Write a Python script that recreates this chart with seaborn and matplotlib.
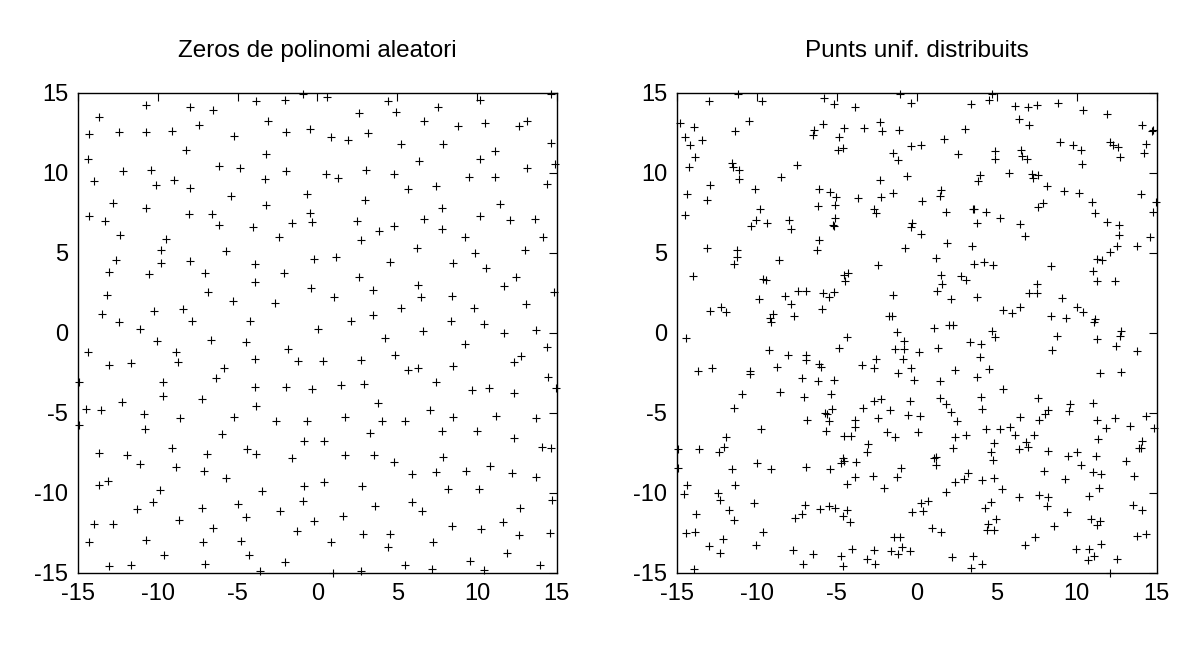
import pandas as pd
import seaborn as sns
import matplotlib.pyplot as plt

# Titles and axis ticks
titles = ["Zeros de polinomi aleatori", "Punts unif. distribuits"]
ticks = [-15, -10, -5, 0, 5, 10, 15]

# Left panel: zeros of a random polynomial (x, y)
zeros_xy = [
    (-10.75, 14.23), (-7.98, 14.13), (-6.56, 13.92), (-13.67, 13.5), (-7.42, 13.0), (-14.29, 12.42), (-12.42, 12.58), (-10.75, 12.54), (-9.10, 12.6), (-5.23, 12.31),
    (-8.23, 11.42), (-14.35, 10.85), (-6.17, 10.42), (-12.21, 10.10), (-10.42, 10.17), (-13.98, 9.46), (-10.13, 9.21), (-8.98, 9.54), (-7.98, 9.04), (-5.44, 8.54),
    (-12.79, 8.10), (-10.75, 7.79), (-14.29, 7.29), (-13.29, 7.0), (-8.04, 7.42), (-6.63, 7.42), (-6.17, 6.73), (-12.35, 6.13), (-9.48, 5.88), (-9.79, 5.17),
    (-5.73, 5.10), (-12.60, 4.54), (-9.79, 4.38), (-7.98, 4.48), (-13.04, 3.79), (-10.54, 3.69), (-7.04, 3.73), (-6.85, 2.56), (-13.17, 2.35), (-5.27, 2.0),
    (-13.52, 1.19), (-10.23, 1.38), (-8.42, 1.48), (-12.42, 0.65), (-7.85, 0.75), (-11.10, 0.23),
    (-3.83, 14.48), (-2.04, 14.54), (-0.90, 14.92), (0.58, 14.75), (4.40, 14.48), (4.92, 13.79), (2.58, 13.73), (-3.10, 13.23), (-1.98, 12.54), (-0.48, 12.73),
    (0.83, 12.23), (1.90, 12.04), (3.15, 12.48), (-3.23, 11.19), (-4.85, 10.29), (-1.98, 10.13), (-3.27, 9.63), (0.52, 9.94), (1.27, 9.67), (3.02, 10.17),
    (4.77, 9.94), (-0.67, 8.67), (2.96, 8.31), (-3.23, 7.98), (-0.44, 7.48), (-0.35, 6.90), (-1.60, 6.85), (-4.04, 6.60), (2.46, 7.0), (3.83, 6.38),
    (4.77, 6.67), (-2.42, 5.98), (2.71, 5.79), (-0.23, 4.60), (1.15, 4.75), (4.58, 4.42), (-3.90, 4.29), (-2.10, 3.73), (-3.92, 3.17), (2.58, 3.5),
    (-0.42, 2.79), (3.46, 2.67), (1.02, 2.23), (-2.67, 1.88), (-4.23, 0.75), (3.46, 1.13), (2.08, 0.71), (0.02, 0.23),
    (14.63, 14.92), (10.19, 14.54), (7.58, 14.13), (6.67, 13.21), (8.83, 12.94), (10.5, 13.10), (12.65, 12.94), (13.15, 13.21), (5.25, 11.83), (7.85, 11.79),
    (14.65, 11.85), (11.15, 11.35), (6.38, 10.73), (10.21, 10.85), (13.15, 10.33), (14.90, 10.54), (9.48, 9.71), (11.13, 9.71), (5.65, 8.98), (7.42, 9.15),
    (14.40, 9.29), (7.79, 7.79), (11.46, 8.04), (6.67, 7.13), (10.21, 7.31), (12.08, 7.06), (13.65, 7.13), (7.79, 6.5), (9.23, 5.96), (14.15, 6.0),
    (6.27, 5.33), (9.90, 4.98), (13.02, 5.17), (8.52, 4.38), (10.58, 4.06), (12.46, 3.5), (6.33, 3.0), (11.71, 2.94), (14.83, 2.56), (6.46, 2.21),
    (8.46, 2.31), (5.25, 1.54), (9.83, 1.58), (13.08, 1.83), (8.35, 0.75), (10.46, 0.54), (6.60, 0.13), (11.67, -0.02), (13.71, 0.17),
    (-10.06, -0.52), (-6.67, -0.46), (-14.35, -1.17), (-8.88, -1.17), (-13.06, -2.02), (-11.67, -1.90), (-8.73, -1.83), (-5.85, -2.21), (-14.96, -3.06), (-9.67, -3.08),
    (-6.35, -2.83), (-9.67, -3.94), (-12.27, -4.33), (-7.21, -4.15), (-14.48, -4.77), (-13.54, -4.83), (-10.85, -5.08), (-8.60, -5.33), (-5.23, -5.27), (-14.96, -5.77),
    (-10.79, -6.02), (-6.0, -6.33), (-13.67, -7.52), (-11.92, -7.65), (-9.10, -7.21), (-6.92, -7.58), (-11.10, -8.21), (-8.88, -8.38), (-7.10, -8.65), (-5.73, -9.06),
    (-13.67, -9.5), (-13.10, -9.27), (-9.85, -9.83), (-10.29, -10.58), (-11.29, -11.02), (-7.21, -10.96), (-5.0, -10.7), (-13.98, -11.94), (-12.79, -11.94), (-8.67, -11.69),
    (-6.56, -12.21), (-14.29, -13.06), (-10.73, -12.96), (-7.19, -13.06), (-9.60, -13.9), (-13.06, -14.58), (-11.67, -14.52), (-7.02, -14.44),
    (-4.48, -0.60), (-1.85, -1.0), (4.23, -0.31), (-3.90, -1.63), (-1.23, -1.73), (0.33, -1.77), (2.71, -1.71), (4.85, -1.38), (-3.90, -3.40), (-1.98, -3.40),
    (-0.35, -3.52), (1.46, -3.23), (2.90, -3.17), (-3.85, -4.58), (3.77, -4.38), (-2.60, -5.54), (-0.67, -5.54), (1.71, -5.27), (4.06, -5.5), (3.27, -6.27),
    (-0.85, -6.75), (0.44, -6.75), (-4.42, -7.27), (-3.85, -7.60), (-1.60, -7.83), (1.71, -7.65), (3.52, -7.65), (4.83, -8.08), (-0.85, -9.58), (0.40, -9.33),
    (2.77, -9.58), (-3.48, -9.90), (-0.92, -10.52), (-2.35, -11.15), (3.58, -10.85), (-4.48, -11.5), (-0.23, -11.77), (1.58, -11.44), (-1.29, -12.38), (-4.79, -13.0),
    (0.83, -13.06), (2.83, -12.56), (4.58, -12.6), (4.40, -13.4), (-4.29, -13.9), (-2.04, -14.35), (-3.60, -14.88), (2.71, -14.88), (0.96, -15.0),
    (9.23, -0.71), (14.40, -0.88), (12.33, -1.83), (12.77, -1.44), (5.65, -2.33), (6.31, -2.21), (8.52, -2.08), (7.40, -3.08), (9.71, -3.58), (10.77, -3.42),
    (12.33, -3.77), (14.46, -2.77), (14.96, -3.42), (7.08, -4.83), (5.46, -5.54), (8.52, -5.27), (11.21, -5.19), (13.71, -5.33), (7.79, -6.13), (10.02, -6.13),
    (12.33, -6.58), (14.08, -7.15), (14.65, -7.21), (7.85, -7.77), (5.90, -8.83), (7.46, -8.71), (9.33, -8.65), (10.83, -8.33), (12.21, -8.77), (13.71, -9.02),
    (8.21, -9.75), (10.15, -9.75), (5.90, -10.58), (6.58, -11.15), (12.71, -10.96), (14.71, -10.46), (8.46, -12.06), (10.27, -12.27), (11.65, -11.83), (12.65, -12.63),
    (14.58, -12.52), (7.27, -13.06), (11.90, -13.75), (5.52, -14.52), (7.15, -14.77), (9.58, -14.27), (10.46, -14.83), (13.96, -14.52),
]

# Right panel: uniformly distributed points (x, y)
uniform_xy = [
    (-13.0, 14.48), (-11.17, 14.94), (-9.67, 14.48), (-5.79, 14.69), (-5.17, 14.31), (-14.81, 13.10), (-13.92, 12.85), (-10.48, 13.23), (-11.35, 12.60), (-6.42, 12.69),
    (-6.48, 12.35), (-5.85, 13.08), (-14.48, 12.23), (-14.17, 11.77), (-13.42, 12.04), (-13.85, 10.98), (-14.23, 10.35), (-11.54, 10.63), (-11.48, 10.35), (-11.10, 10.19),
    (-11.10, 9.63), (-7.48, 10.48), (-8.48, 9.73), (-12.92, 9.23), (-14.35, 8.67), (-13.10, 8.29), (-10.10, 9.0), (-6.10, 9.0), (-5.42, 8.79), (-5.06, 8.48),
    (-5.10, 8.02), (-6.17, 7.90), (-9.79, 7.73), (-14.48, 7.35), (-10.04, 7.04), (-10.35, 6.67), (-9.35, 6.85), (-7.98, 7.04), (-7.85, 6.48), (-5.10, 7.17),
    (-5.25, 6.73), (-5.20, 6.70), (-6.10, 5.79), (-6.23, 5.15), (-13.10, 5.29), (-11.23, 5.17), (-11.23, 4.77), (-11.42, 4.29), (-8.60, 4.54), (-13.98, 3.54),
    (-9.60, 3.35), (-9.42, 3.29), (-7.42, 2.60), (-6.92, 2.60), (-5.85, 2.48), (-5.48, 2.23), (-5.17, 2.54), (-9.85, 2.13), (-8.23, 2.29), (-7.85, 1.79),
    (-12.92, 1.35), (-12.23, 1.60), (-11.92, 1.29), (-5.92, 1.5), (-8.98, 1.19), (-9.17, 0.94), (-9.10, 0.69), (-7.67, 1.04),
    (-1.04, 14.94), (-0.35, 14.35), (-3.85, 14.10), (3.40, 14.31), (4.52, 14.56), (4.71, 14.9), (-4.54, 12.79), (-3.29, 12.79), (-2.29, 13.15), (-2.17, 12.60),
    (-1.10, 12.67), (3.02, 12.73), (-4.85, 12.23), (1.71, 12.10), (-4.92, 11.42), (-4.60, 11.54), (-1.48, 11.23), (-1.17, 10.79), (-0.35, 11.67), (0.27, 11.73),
    (2.58, 11.17), (4.90, 11.35), (4.90, 10.85), (-2.29, 9.54), (-0.60, 9.79), (3.96, 9.85), (3.83, 9.48), (-3.67, 8.42), (-2.23, 8.48), (-1.48, 8.73),
    (0.33, 8.23), (1.52, 8.92), (1.46, 8.54), (-2.67, 7.73), (-2.54, 7.48), (1.83, 7.54), (3.58, 7.77), (3.52, 7.71), (4.33, 7.54), (3.77, 6.85),
    (-0.29, 6.85), (-0.35, 6.60), (0.27, 6.17), (-0.73, 5.33), (1.90, 5.60), (3.46, 5.42), (-2.42, 4.23), (1.21, 4.67), (3.58, 4.31), (4.21, 4.44),
    (4.77, 4.25), (-4.54, 3.60), (-4.29, 3.73), (-4.48, 3.23), (1.52, 3.60), (1.58, 3.04), (2.77, 3.54), (3.08, 3.29), (1.27, 2.60), (-1.48, 2.35),
    (2.15, 2.10), (3.77, 2.23), (-1.73, 1.08), (-1.54, 1.08), (1.08, 0.31), (2.02, 0.48), (2.27, 0.48), (-1.23, 0.04), (4.71, 0.1),
    (6.15, 14.17), (6.96, 14.10), (7.52, 14.23), (8.83, 14.38), (10.40, 13.92), (11.90, 13.69), (6.40, 13.35), (7.02, 13.0), (14.08, 12.98), (14.71, 12.60),
    (14.77, 12.65), (8.96, 11.94), (9.77, 11.73), (10.27, 11.42), (12.08, 11.94), (12.27, 11.73), (12.58, 11.60), (12.71, 10.98), (14.33, 11.81), (14.21, 11.23),
    (6.52, 11.42), (6.58, 11.04), (6.90, 10.85), (10.33, 10.54), (5.77, 9.98), (7.21, 9.92), (7.27, 9.67), (7.58, 9.85), (8.15, 9.17), (9.21, 8.85),
    (10.15, 8.73), (10.96, 8.17), (11.15, 7.48), (14.0, 8.67), (14.96, 8.17), (14.77, 7.54), (7.58, 7.85), (7.90, 8.10), (5.21, 7.17), (6.46, 6.79),
    (6.77, 6.06), (11.90, 6.92), (12.65, 6.75), (12.65, 6.13), (12.52, 5.42), (12.08, 5.06), (13.77, 5.42), (14.58, 6.0), (11.27, 4.60), (11.58, 4.54),
    (8.40, 4.17), (11.02, 3.85), (11.27, 3.23), (12.40, 3.23), (7.52, 3.04), (7.02, 2.48), (7.52, 2.48), (9.08, 2.17), (5.40, 1.42), (5.96, 1.23),
    (6.46, 1.60), (8.40, 1.04), (9.33, 0.92), (10.02, 1.60), (10.40, 1.29), (11.15, 0.85), (11.08, 0.67), (12.77, 0.1),
    (-14.42, -0.33), (-9.23, -1.08), (-8.04, -1.38), (-6.92, -1.40), (-6.92, -1.71), (-6.10, -1.94), (-5.98, -2.15), (-13.67, -2.40), (-12.79, -2.21), (-10.42, -2.40),
    (-10.42, -2.58), (-8.73, -2.15), (-7.17, -2.83), (-6.17, -3.02), (-5.17, -2.96), (-10.92, -3.83), (-8.54, -3.69), (-7.04, -4.02), (-5.35, -3.83), (-11.42, -4.71),
    (-5.29, -4.77), (-5.71, -5.0), (-5.60, -5.10), (-6.85, -5.46), (-5.48, -5.52), (-9.73, -6.02), (-5.67, -6.15), (-11.92, -6.52), (-12.04, -7.13), (-12.35, -7.46),
    (-13.60, -7.27), (-14.92, -7.25), (-14.92, -8.46), (-11.54, -8.52), (-9.98, -8.15), (-9.10, -8.52), (-6.92, -8.40), (-5.42, -8.52), (-14.35, -9.48), (-11.35, -9.48),
    (-14.54, -10.10), (-12.42, -10.0), (-12.29, -10.46), (-11.73, -11.08), (-10.17, -10.63), (-13.79, -11.31), (-11.42, -11.71), (-6.98, -10.77), (-7.17, -11.31), (-7.60, -11.58),
    (-6.04, -11.02), (-5.48, -10.83), (-5.10, -10.96), (-14.42, -12.52), (-13.85, -12.44), (-9.60, -12.46), (-12.10, -12.9), (-12.98, -13.35), (-12.29, -13.77), (-10.04, -13.27),
    (-7.73, -13.56), (-6.48, -13.83), (-7.10, -14.46), (-13.92, -14.73),
    (-4.35, -0.27), (4.90, -0.27), (-4.85, -0.96), (-0.79, -0.52), (-1.35, -1.02), (-0.83, -1.02), (0.15, -1.21), (1.33, -0.96), (3.33, -0.58), (4.02, -0.69),
    (-2.54, -1.65), (-0.85, -1.65), (3.96, -1.52), (-3.42, -2.02), (-2.67, -2.21), (-1.17, -2.5), (-0.35, -2.21), (2.40, -2.33), (4.52, -2.27), (-0.17, -2.96),
    (1.46, -3.02), (3.77, -2.77), (-2.67, -4.27), (-2.23, -4.13), (-0.42, -4.25), (1.46, -4.08), (1.83, -4.46), (2.15, -4.96), (2.52, -5.52), (4.02, -4.02),
    (4.08, -4.77), (-3.35, -4.71), (-1.67, -4.83), (-0.54, -5.15), (0.21, -5.21), (-2.42, -5.33), (-3.85, -5.46), (-3.85, -5.90), (-4.54, -6.46), (-4.10, -6.46),
    (-1.85, -6.21), (-1.35, -6.52), (0.08, -6.21), (2.40, -6.52), (3.08, -6.40), (4.33, -6.02), (-3.04, -6.96), (-3.10, -7.42), (2.27, -7.21), (4.83, -6.90),
    (4.65, -7.46), (4.77, -7.96), (-4.60, -7.85), (-4.73, -8.13), (-4.54, -8.0), (-3.79, -8.08), (-0.96, -8.46), (1.08, -7.85), (1.21, -7.79), (1.21, -8.27),
    (-3.85, -9.02), (-2.73, -8.94), (-1.23, -9.0), (-4.35, -9.44), (-2.04, -9.71), (1.83, -9.94), (2.40, -9.31), (2.96, -9.13), (3.21, -8.77), (4.08, -9.21),
    (4.83, -9.08), (-4.35, -11.06), (-4.60, -11.46), (-4.17, -11.83), (-0.29, -11.19), (0.40, -11.15), (0.27, -10.63), (0.71, -10.52), (4.27, -10.96), (4.65, -10.56),
    (4.96, -11.65), (4.46, -11.96), (4.40, -12.31), (4.83, -12.31), (0.96, -12.21), (1.52, -12.44), (-1.42, -12.77), (-1.04, -12.77), (-4.04, -13.52), (-4.73, -13.92),
    (-2.67, -13.58), (-3.10, -14.15), (-2.60, -14.46), (-4.60, -14.58), (-1.60, -13.65), (-1.17, -13.83), (-0.92, -13.40), (-0.42, -13.65), (2.21, -14.02), (3.52, -13.92),
    (4.08, -14.46), (3.40, -14.71),
    (8.77, -0.19), (11.27, -0.40), (12.71, -0.19), (12.46, -0.83), (13.77, -1.15), (8.46, -1.08), (11.46, -2.52), (12.77, -2.44), (5.40, -3.52), (7.58, -4.08),
    (9.58, -4.46), (9.52, -4.90), (11.02, -4.40), (8.21, -4.81), (8.02, -5.08), (6.46, -5.27), (7.65, -5.46), (11.27, -5.46), (12.40, -5.33), (14.33, -5.21),
    (5.21, -6.02), (5.83, -5.90), (6.15, -6.40), (7.33, -6.40), (11.83, -5.96), (13.33, -5.83), (14.83, -5.96), (11.33, -6.65), (14.08, -6.77), (13.90, -7.21),
    (14.02, -7.21), (6.83, -6.83), (6.96, -7.15), (6.40, -7.27), (8.21, -7.40), (9.46, -7.71), (10.02, -7.46), (11.21, -7.69), (10.27, -8.27), (13.08, -8.02),
    (7.96, -8.65), (9.27, -9.15), (11.02, -8.71), (11.52, -8.83), (13.58, -8.94), (5.33, -9.77), (11.40, -9.69), (6.40, -10.27), (7.65, -10.13), (8.21, -10.27),
    (8.15, -10.83), (10.77, -10.21), (9.40, -11.19), (13.52, -10.77), (14.08, -11.08), (10.90, -11.65), (11.46, -11.77), (11.27, -12.02), (8.58, -12.08), (7.40, -12.77),
    (6.77, -13.27), (13.77, -12.71), (14.33, -12.58), (11.52, -13.21), (9.96, -13.52), (10.77, -13.52), (10.71, -14.21), (11.08, -13.96), (12.52, -14.13), (12.08, -15.0),
]


# Function to draw one panel of crosses
def draw_panel(ax, points, title):
    df = pd.DataFrame(points, columns=["x", "y"])
    sns.scatterplot(data=df, x="x", y="y", marker="+", color="black",
                    s=38, linewidth=0.8, clip_on=False, legend=False, ax=ax)
    ax.set_xlim(-15, 15)
    ax.set_ylim(-15, 15)
    ax.set_xticks(ticks)
    ax.set_yticks(ticks)
    ax.set_xlabel("")
    ax.set_ylabel("")
    ax.set_title(title, fontsize=17.5, pad=26, color="black")
    ax.tick_params(direction="in", length=6, width=0.8, top=True, right=True,
                   labelsize=17, pad=7, colors="black")
    for spine in ax.spines.values():
        spine.set_color("black")
        spine.set_linewidth(1.0)


def main():
    sns.set_style("white")
    plt.rcParams["font.family"] = ["Liberation Sans", "DejaVu Sans"]
    plt.rcParams["axes.unicode_minus"] = False
    fig = plt.figure(figsize=(12, 6.63), dpi=100)
    ax1 = fig.add_axes([0.065, 0.136, 0.399, 0.724])
    ax2 = fig.add_axes([0.564, 0.136, 0.400, 0.724])
    draw_panel(ax1, zeros_xy, titles[0])
    draw_panel(ax2, uniform_xy, titles[1])
    fig.savefig("out.png", dpi=100, facecolor="white")


if __name__ == "__main__":
    main()
